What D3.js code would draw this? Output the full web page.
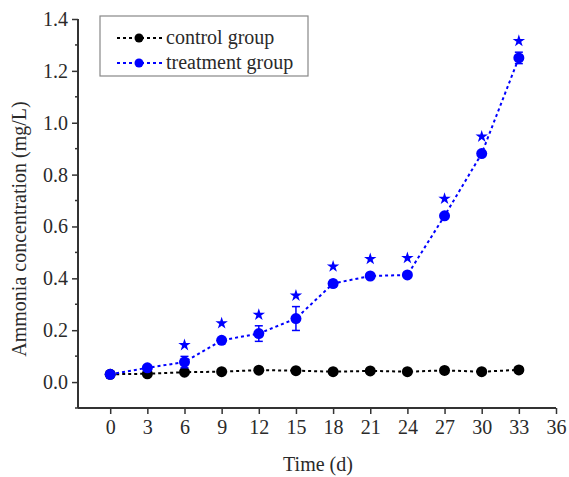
<!DOCTYPE html>
<html>
<head>
<meta charset="utf-8">
<script src="https://cdn.jsdelivr.net/npm/d3@7"></script>
<style>
  body { margin: 0; background: #fff; }
  svg text { font-family: "Liberation Serif", "DejaVu Serif", serif; fill: #2a2a2a; }
</style>
</head>
<body>
<div class="chart"></div>
<script>
// days
var days = [0, 3, 6, 9, 12, 15, 18, 21, 24, 27, 30, 33];
var controlVals = [0.030, 0.032, 0.038, 0.040, 0.046, 0.044, 0.040, 0.043, 0.040, 0.045, 0.040, 0.047];
var controlErr  = [0.004, 0.004, 0.004, 0.004, 0.004, 0.004, 0.004, 0.004, 0.004, 0.006, 0.004, 0.012];
var treatVals = [0.030, 0.055, 0.077, 0.161, 0.187, 0.245, 0.380, 0.409, 0.413, 0.641, 0.881, 1.250];
var treatErr  = [0.004, 0.008, 0.022, 0.008, 0.030, 0.046, 0.012, 0.006, 0.008, 0.008, 0.006, 0.022];
var starDays = [6, 9, 12, 15, 18, 21, 24, 27, 30, 33];
var xTicks = [0, 3, 6, 9, 12, 15, 18, 21, 24, 27, 30, 33, 36];
var yTicks = [0.0, 0.2, 0.4, 0.6, 0.8, 1.0, 1.2, 1.4];
var yMinor = [-0.1, 0.1, 0.3, 0.5, 0.7, 0.9, 1.1, 1.3];

function drawChart() {
    var W = 569, H = 477;
    var mLeft = 78, mRight = 556, mTop = 19, mBottom = 408;
    var serif = '"Liberation Serif", "DejaVu Serif", serif';

    var svg = d3.select('.chart').append('svg')
        .attr('width', W).attr('height', H)
        .attr('font-family', serif);

    var x = d3.scaleLinear().domain([-2.6, 36]).range([mLeft, mRight]);
    var y = d3.scaleLinear().domain([-0.1, 1.4]).range([mBottom, mTop]);

    var axisColor = '#333';

    // x axis
    var xAxis = svg.append('g')
        .attr('transform', 'translate(0,' + mBottom + ')')
        .call(d3.axisBottom(x).tickValues(xTicks).tickSize(6).tickPadding(6).tickFormat(d3.format('d')));
    xAxis.attr('font-family', serif);
    xAxis.select('.domain').attr('stroke', axisColor).attr('stroke-width', 2).attr('d', 'M' + mLeft + ',0H' + mRight);
    xAxis.selectAll('.tick line').attr('stroke', axisColor).attr('stroke-width', 1.5);
    xAxis.selectAll('.tick text').attr('font-size', 20).attr('fill', '#2a2a2a');

    // y axis
    var yAxis = svg.append('g')
        .attr('transform', 'translate(' + mLeft + ',0)')
        .call(d3.axisLeft(y).tickValues(yTicks).tickSize(6).tickPadding(4).tickFormat(d3.format('.1f')));
    yAxis.attr('font-family', serif);
    yAxis.select('.domain').attr('stroke', axisColor).attr('stroke-width', 2).attr('d', 'M0,' + mTop + 'V' + mBottom);
    yAxis.selectAll('.tick line').attr('stroke', axisColor).attr('stroke-width', 1.5);
    yAxis.selectAll('.tick text').attr('font-size', 20).attr('fill', '#2a2a2a');

    svg.append('g').selectAll('line').data(yMinor).enter().append('line')
        .attr('x1', mLeft - 3).attr('x2', mLeft)
        .attr('y1', function(d){ return y(d); }).attr('y2', function(d){ return y(d); })
        .attr('stroke', axisColor).attr('stroke-width', 1.5);

    // titles
    svg.append('text').attr('x', 318).attr('y', 471)
        .attr('text-anchor', 'middle').attr('font-size', 20).text('Time (d)');
    svg.append('text')
        .attr('transform', 'translate(26,229) rotate(-90)')
        .attr('text-anchor', 'middle').attr('font-size', 20).text('Ammonia concentration (mg/L)');

    var line = d3.line().x(function(d){ return x(d[0]); }).y(function(d){ return y(d[1]); });

    function drawSeries(vals, errs, color) {
        var pts = days.map(function(d, i){ return [d, vals[i], errs[i]]; });
        var g = svg.append('g');
        g.append('path').attr('d', line(pts))
            .attr('fill', 'none').attr('stroke', color)
            .attr('stroke-width', 2).attr('stroke-dasharray', '3,3');
        var eb = g.selectAll('.eb').data(pts).enter().append('g');
        eb.append('line')
            .attr('x1', function(d){ return x(d[0]); }).attr('x2', function(d){ return x(d[0]); })
            .attr('y1', function(d){ return y(d[1] - d[2]); }).attr('y2', function(d){ return y(d[1] + d[2]); })
            .attr('stroke', color).attr('stroke-width', 1.5);
        [-1, 1].forEach(function(s){
            eb.append('line')
                .attr('x1', function(d){ return x(d[0]) - 4; }).attr('x2', function(d){ return x(d[0]) + 4; })
                .attr('y1', function(d){ return y(d[1] + s * d[2]); }).attr('y2', function(d){ return y(d[1] + s * d[2]); })
                .attr('stroke', color).attr('stroke-width', 1.5);
        });
        g.selectAll('circle').data(pts).enter().append('circle')
            .attr('cx', function(d){ return x(d[0]); }).attr('cy', function(d){ return y(d[1]); })
            .attr('r', 5.5).attr('fill', color);
    }

    drawSeries(controlVals, controlErr, '#000');
    drawSeries(treatVals, treatErr, '#0000ff');

    // significance stars above the error bars
    var star = d3.symbol().type(d3.symbolStar).size(48);
    svg.append('g').selectAll('path').data(starDays).enter().append('path')
        .attr('d', star)
        .attr('fill', '#0000ff')
        .attr('transform', function(d){
            var i = days.indexOf(d);
            var sy = Math.min(y(treatVals[i] + treatErr[i]) - 11, y(treatVals[i]) - 17);
            return 'translate(' + x(d) + ',' + sy + ')';
        });

    // legend
    var lg = svg.append('g');
    lg.append('rect').attr('x', 100).attr('y', 16).attr('width', 208).attr('height', 60)
        .attr('fill', '#fff').attr('stroke', '#888').attr('stroke-width', 1.2);
    var legendItems = [['control group', '#000'], ['treatment group', '#0000ff']];
    legendItems.forEach(function(it, i){
        var ly = 38 + i * 25;
        lg.append('line').attr('x1', 117).attr('x2', 162).attr('y1', ly).attr('y2', ly)
            .attr('stroke', it[1]).attr('stroke-width', 2).attr('stroke-dasharray', '3,3');
        lg.append('circle').attr('cx', 139).attr('cy', ly).attr('r', 4.5).attr('fill', it[1]);
        lg.append('text').attr('x', 166).attr('y', ly + 6).attr('font-size', 20).text(it[0]);
    });
}
drawChart();
</script>
</body>
</html>
